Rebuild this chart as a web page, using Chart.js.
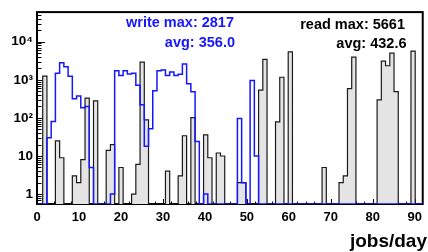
<!DOCTYPE html>
<html><head><meta charset="utf-8">
<script src="https://cdn.jsdelivr.net/npm/chart.js@4.4.1/dist/chart.umd.min.js"></script>
<style>html,body{margin:0;padding:0;background:#fff}#wrap{width:428px;height:252px;position:relative}</style>
</head><body><div id="wrap"><canvas id="c"></canvas></div>
<script>
// counts per jobs/day bin (bin k starts at binStart + k*binWidth)
const readCounts = [
  0,1250,0,0,25,9,0,0,3,2,
  8,330,0,280,0,0,14,20,0,5,
  0,0,1,6,2900,89,0,0,0,0,
  4,0,0,3,34,0,102,0,0,36,
  9,0,12,10,0,0,0,2,2,0,
  0,0,536,3450,0,0,79,1170,0,5400,
  0,0,0,0,0,0,0,5,0,0,
  0,2,3,590,3950,0,0,0,0,0,
  299,3100,2340,5000,490,0,0,0,5661,0,
  0
];
const writeCounts = [
  0,0,30,81,1490,2817,2190,1250,317,377,
  184,200,5,0,0,0,0,1,1740,1290,
  1740,1430,1500,720,223,18,52,520,1740,1800,
  1290,1600,1290,1400,2600,795,490,24,0,1,
  0,0,0,0,0,0,0,97,2,0,
  966,10,0,0,0,0,0,0,0,0,
  0,0,0,0,0,0,0,0,0,0,
  0,0,0,0,0,0,0,0,0,0,
  0,0,0,0,0,0,0,0,0,0,
  0
];
const xTickValues = [0,10,20,30,40,50,60,70,80,90];
const yTickValues = [1,10,100,1000,10000];
const yTickLabels = ['1','10','10\u00B2','10\u00B3','10\u2074'];
const writeMax = 2817, writeAvg = 356.0;
const readMax = 5661, readAvg = 432.6;
const xTitle = 'jobs/day';

const binStart = 0.35, binWidth = 1.0085;
const xMin = 0, xMax = 91.9, yMin = 0.55, yMax = 60000;
const FONT = "'Liberation Sans', Arial, Helvetica, sans-serif";
const BLUE = '#1616ff';

function histPoints(counts){
  const pts = counts.map((c,k)=>({x: binStart + k*binWidth, y: c>0 ? c : yMin}));
  pts.push({x: binStart + counts.length*binWidth, y: yMin});
  return pts;
}

const decor = {
  id: 'decor',
  beforeDatasetsDraw(chart){
    const {ctx, chartArea:a, scales:{x, y}} = chart;
    ctx.save();
    ctx.strokeStyle = '#000';
    ctx.lineWidth = 1;
    ctx.beginPath();
    for (let e = -1; e <= 4; e++) for (let d = 1; d <= 9; d++) {
      const v = d * Math.pow(10, e);
      if (v < yMin || v > yMax) continue;
      const py = Math.round(y.getPixelForValue(v)) + 0.5;
      const len = d === 1 ? 8 : 4.5;
      ctx.moveTo(a.left, py); ctx.lineTo(a.left + len, py);
    }
    for (let v = 0; v <= xMax; v += 2) {
      const px = Math.round(x.getPixelForValue(v)) + 0.5;
      const len = v % 10 === 0 ? 5 : 2.5;
      ctx.moveTo(px, a.bottom); ctx.lineTo(px, a.bottom - len);
    }
    ctx.stroke();
    ctx.lineWidth = 2;
    ctx.strokeRect(a.left, a.top, a.right - a.left, a.bottom - a.top);
    ctx.restore();
  },
  afterDraw(chart){
    const {ctx, chartArea:a} = chart;
    ctx.save();
    ctx.textAlign = 'right';
    ctx.textBaseline = 'alphabetic';
    ctx.font = 'bold 14.5px ' + FONT;
    ctx.fillStyle = BLUE;
    ctx.fillText('write max: ' + writeMax, 234, 27);
    ctx.fillText('avg: ' + writeAvg.toFixed(1), 235, 47);
    ctx.fillStyle = '#000';
    ctx.fillText('read max: ' + readMax, 405, 28.5);
    ctx.fillText('avg: ' + readAvg.toFixed(1), 406.5, 47.5);
    ctx.font = 'bold 19px ' + FONT;
    ctx.fillText(xTitle, 427, 247);
    ctx.restore();
  }
};

new Chart(document.getElementById('c'), {
  type: 'line',
  data: {
    datasets: [
      {
        label: 'write', data: histPoints(writeCounts), stepped: true,
        borderColor: BLUE, borderWidth: 1.5, pointRadius: 0, fill: false, order: 0
      },
      {
        label: 'read', data: histPoints(readCounts), stepped: true,
        borderColor: '#1a1a1a', borderWidth: 1.2, backgroundColor: '#e4e4e4',
        pointRadius: 0, fill: 'start', order: 1
      }
    ]
  },
  options: {
    responsive: true, maintainAspectRatio: false, animation: false,
    devicePixelRatio: 1,
    layout: {padding: {top: 6, right: 1, left: 0, bottom: 0}},
    plugins: {legend: {display: false}, tooltip: {enabled: false}},
    scales: {
      x: {
        type: 'linear', min: xMin, max: xMax,
        grid: {display: false, drawTicks: false}, border: {display: false},
        afterBuildTicks: s => { s.ticks = xTickValues.map(v => ({value: v})); },
        afterFit: s => { s.height = 48; },
        ticks: {autoSkip: false, maxRotation: 0, padding: 6, color: '#000',
                font: {family: FONT, size: 13, weight: 'bold'}}
      },
      y: {
        type: 'logarithmic', min: yMin, max: yMax,
        grid: {display: false, drawTicks: false}, border: {display: false},
        afterBuildTicks: s => { s.ticks = yTickValues.map(v => ({value: v})); },
        afterFit: s => { s.width = 37; },
        ticks: {autoSkip: false, padding: 4, color: '#000',
                font: {family: FONT, size: 13.5, weight: 'bold'},
                callback: (v, i) => yTickLabels[i]}
      }
    }
  },
  plugins: [decor]
});
</script>
</body></html>
